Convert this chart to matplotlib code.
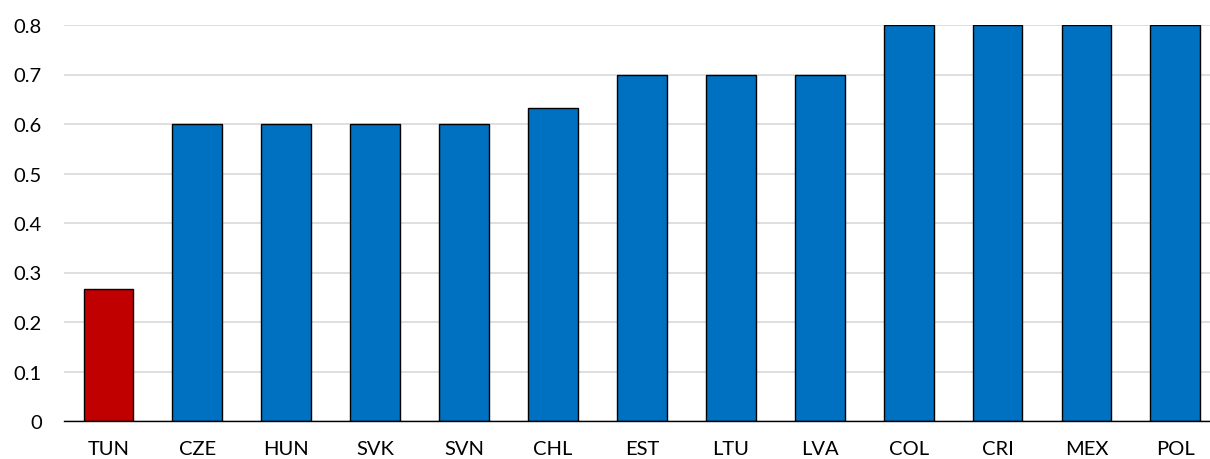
import matplotlib.pyplot as plt

countries = ["TUN", "CZE", "HUN", "SVK", "SVN", "CHL", "EST", "LTU", "LVA", "COL", "CRI", "MEX", "POL"]
values = [0.2667, 0.6, 0.6, 0.6, 0.6, 0.6333, 0.7, 0.7, 0.7, 0.8, 0.8, 0.8, 0.8]
colors = ["#C00000"] + ["#0070C0"] * (len(countries) - 1)

plt.rcParams['font.family'] = ['Lato', 'DejaVu Sans']

fig = plt.figure(figsize=(12.1, 4.6), dpi=100)
ax = fig.add_axes([64 / 1210, 1 - 422 / 460, 1 - 64 / 1210, (422 - 26) / 460])

x = range(len(countries))
ax.bar(x, values, width=0.56, color=colors, edgecolor="black", linewidth=1, zorder=3)

ax.set_ylim(0, 0.8)
ax.set_xlim(-0.5, 12.39)
ax.set_yticks([0, 0.1, 0.2, 0.3, 0.4, 0.5, 0.6, 0.7, 0.8])
ax.set_yticklabels(["0", "0.1", "0.2", "0.3", "0.4", "0.5", "0.6", "0.7", "0.8"])
ax.set_xticks(list(x))
ax.set_xticklabels(countries)
ax.tick_params(axis="both", length=0, labelsize=14.5)
ax.tick_params(axis="y", pad=16)
ax.tick_params(axis="x", pad=14)

ax.grid(axis="y", color="#D9D9D9", linewidth=1.2, zorder=0)
for s in ["top", "right", "left"]:
    ax.spines[s].set_visible(False)
ax.spines["bottom"].set_color("black")
ax.spines["bottom"].set_linewidth(1)
ax.spines["bottom"].set_zorder(4)

fig.savefig("out.png", dpi=100)
